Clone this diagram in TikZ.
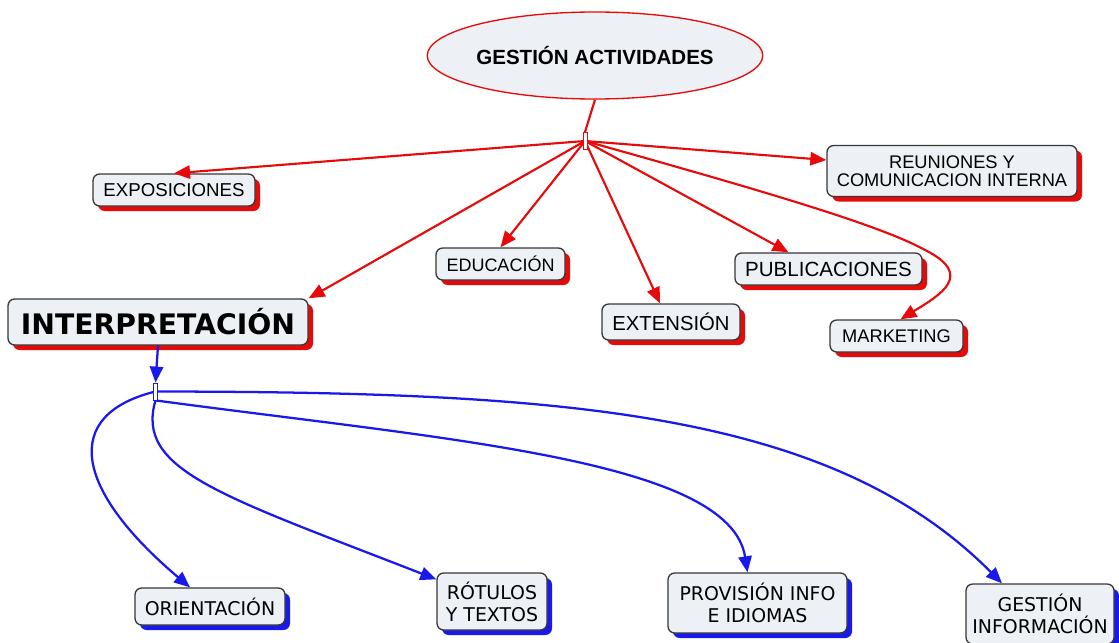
\documentclass[tikz,border=0pt]{standalone}
\usepackage{fontspec}
\newfontfamily\arialf{Liberation Sans}
\newfontfamily\verdf{DejaVu Sans}
\usetikzlibrary{arrows.meta,shadows,calc,shapes.geometric}

\definecolor{boxfill}{RGB}{237,241,245}
\definecolor{cred}{RGB}{230,10,10}
\definecolor{cblue}{RGB}{25,25,235}
\definecolor{edgegray}{RGB}{55,55,55}

\tikzset{
  concept/.style={draw=edgegray, line width=1pt, fill=boxfill, rounded corners=5pt,
    align=center, inner sep=0pt, text=black},
  redbox/.style={concept, drop shadow={shadow xshift=3.75pt, shadow yshift=-3.75pt,
    fill=cred, opacity=1}, font=\arialf\fontsize{#1}{#1}\selectfont},
  bluebox/.style={concept, drop shadow={shadow xshift=3.75pt, shadow yshift=-3.75pt,
    fill=cblue, opacity=1}, font=\verdf\fontsize{#1}{16.3}\selectfont},
  hub/.style={draw=#1, fill=white, line width=0.6pt, inner sep=0pt,
    minimum width=3pt, minimum height=12.75pt},
  redlink/.style={draw=cred, line width=1.6pt, -{Triangle[length=12pt,width=10pt]}},
  bluelink/.style={draw=cblue, line width=1.7pt, -{Triangle[length=12pt,width=10pt]}},
}

\begin{document}
\begin{tikzpicture}[x=0.75pt,y=-0.75pt]
  \path[use as bounding box] (0,0) rectangle (1119,642);

  % root concept
  \node[ellipse, draw=cred, line width=1pt, fill=boxfill, inner sep=0pt,
        minimum width=198pt, minimum height=65.25pt,
        font=\arialf\bfseries\fontsize{15.4}{15.4}\selectfont] (root) at (595,55.5) {GESTIÓN ACTIVIDADES};
  \node[hub=cred] (rhub) at (585,141) {};

  % first-level concepts
  \node[redbox=14, minimum width=121.5pt, minimum height=24pt] (expo) at (174,190) {EXPOSICIONES};
  \node[redbox=13.7, minimum width=187.5pt, minimum height=38.25pt] (reun) at (952,171) {REUNIONES Y\\COMUNICACION INTERNA};
  \node[redbox=13.5, minimum width=96.75pt, minimum height=24pt] (edu) at (500.5,264) {EDUCACIÓN};
  \node[redbox=15.4, minimum width=140.25pt, minimum height=24pt] (publ) at (828.5,269) {PUBLICACIONES};
  \node[redbox=15.2, minimum width=103.5pt, minimum height=27pt] (ext) at (671,322) {EXTENSIÓN};
  \node[redbox=13.7, minimum width=99.75pt, minimum height=24pt] (mkt) at (896.5,336) {MARKETING};
  \node[concept, drop shadow={shadow xshift=3.75pt, shadow yshift=-3.75pt, fill=cred, opacity=1},
        font=\verdf\bfseries\fontsize{21.2}{21.2}\selectfont,
        minimum width=225pt, minimum height=34.5pt] (interp) at (158,322) {INTERPRETACIÓN};

  \node[hub=cblue] (bhub) at (155.5,391.5) {};

  % second-level concepts
  \node[bluebox=14.2, minimum width=112.5pt, minimum height=27.75pt] (orient) at (210,606.5) {ORIENTACIÓN};
  \node[bluebox=14.2, minimum width=82.5pt, minimum height=42.75pt] (rot) at (492,601.5) {RÓTULOS\\Y TEXTOS};
  \node[bluebox=14.2, minimum width=134.25pt, minimum height=45pt] (prov) at (757.5,603) {PROVISIÓN INFO\\E IDIOMAS};
  \node[bluebox=14.2, minimum width=111pt, minimum height=45pt] (ginfo) at (1040,614) {GESTIÓN\\INFORMACIÓN};

  \coordinate (mktbend) at (925,250);

  % red links
  \draw[draw=cred, line width=1.6pt] (root.south) -- (rhub.north);
  \draw[redlink] (rhub.center) -- (expo.north);
  \draw[redlink] (rhub.center) -- ($(reun.west)+(0,-11)$);
  \draw[redlink] (rhub.center) -- (edu.north);
  \draw[redlink] (rhub.center) -- (interp.north east);
  \draw[redlink] (rhub.center) -- ($(ext.north)+(-11,0)$);
  \draw[redlink] (rhub.center) -- ($(publ.north)+(-40,0)$);
  \draw[redlink] (rhub.center) .. controls (760,190) and (880,225) .. (mktbend)
                 .. controls (975,275) and (940,295) .. ($(mkt.north)+(4,0)$);

  % blue links
  \draw[bluelink] (interp.south) -- (bhub.north);
  \draw[bluelink] (bhub.center) .. controls (60,415) and (75,490) .. ($(orient.north)+(-20,0)$);
  \draw[bluelink] (bhub.south) .. controls (135,470) and (220,495) .. ($(rot.north west)+(0,7)$);
  \draw[bluelink] (bhub.south) .. controls (450,440) and (730,460) .. ($(prov.north)+(-10,0)$);
  \draw[bluelink] (bhub.center) .. controls (560,392) and (830,410) .. ($(ginfo.north)+(-38,0)$);

  % hubs on top of their links
  \node[hub=cred] at (rhub) {};
  \node[hub=cblue] at (bhub) {};
\end{tikzpicture}
\end{document}
